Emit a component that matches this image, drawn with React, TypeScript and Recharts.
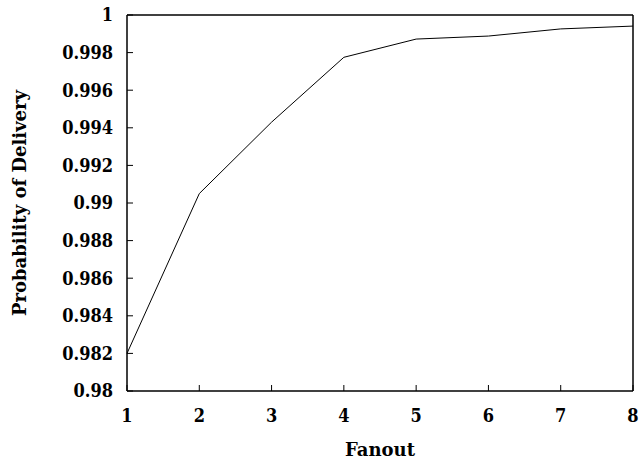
import React from "react";
import { LineChart, Line, XAxis, YAxis } from "recharts";

const fanout = [1, 2, 3, 4, 5, 6, 7, 8];
const delivery = [0.982, 0.9905, 0.9943, 0.99775, 0.99872, 0.99888, 0.99926, 0.99941];
const xTicks = [1, 2, 3, 4, 5, 6, 7, 8];
const yTicks = [0.98, 0.982, 0.984, 0.986, 0.988, 0.99, 0.992, 0.994, 0.996, 0.998, 1];

const data = fanout.map((f, i) => ({ fanout: f, p: delivery[i] }));

const tickStyle = {
  fontFamily: "'DejaVu Serif Condensed', 'DejaVu Serif', serif",
  fontStretch: "condensed",
  fontWeight: 700,
  fontSize: 18,
  fill: "#000",
};

const labelStyle = {
  fontFamily: "'DejaVu Serif', serif",
  fontWeight: 700,
  fontSize: 18,
  fill: "#000",
};

const frame = { stroke: "#000", strokeWidth: 1.5 };
const tickLn = { stroke: "#000", strokeWidth: 1 };

export default function App() {
  return (
    <div style={{ position: "absolute", left: 0, top: 0, width: 639, height: 463, overflow: "hidden" }}>
      <LineChart
        width={639}
        height={463}
        data={data}
        margin={{ top: 15, right: 6, bottom: 0, left: 0 }}
      >
        <XAxis
          xAxisId="b"
          dataKey="fanout"
          type="number"
          domain={[1, 8]}
          ticks={xTicks}
          height={72}
          tickSize={-6}
          tickMargin={24}
          tickLine={tickLn}
          axisLine={frame}
          tick={tickStyle}
          label={{
            value: "Fanout",
            position: "insideBottom",
            offset: 7,
            style: { ...labelStyle },
          }}
        />
        <XAxis
          xAxisId="t"
          orientation="top"
          mirror
          type="number"
          domain={[1, 8]}
          ticks={xTicks}
          tick={false}
          tickSize={6}
          tickLine={tickLn}
          axisLine={frame}
        />
        <YAxis
          yAxisId="l"
          type="number"
          domain={[0.98, 1]}
          ticks={yTicks}
          width={127}
          tickSize={-6}
          tickMargin={20}
          tickLine={tickLn}
          axisLine={frame}
          tick={tickStyle}
          tickFormatter={(v: number) => String(v)}
          label={{
            value: "Probability of Delivery",
            angle: -90,
            position: "insideLeft",
            offset: 20,
            style: { ...labelStyle, textAnchor: "middle" },
          }}
        />
        <YAxis
          yAxisId="r"
          orientation="right"
          mirror
          type="number"
          domain={[0.98, 1]}
          ticks={yTicks}
          tick={false}
          tickSize={6}
          tickLine={tickLn}
          axisLine={frame}
        />
        <Line
          xAxisId="b"
          yAxisId="l"
          dataKey="p"
          type="linear"
          stroke="#000"
          strokeWidth={1}
          dot={false}
          isAnimationActive={false}
        />
      </LineChart>
    </div>
  );
}
